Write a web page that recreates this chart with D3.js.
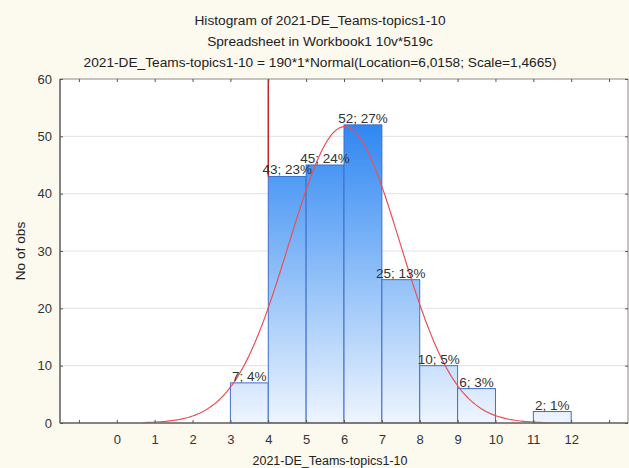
<!DOCTYPE html>
<meta charset="utf-8">
<style>
    body { margin: 0; background: #fcf9ef; }
    svg { display: block; font-family: "Liberation Sans", Arial, sans-serif; }
    .title { font-size: 13.7px; fill: #222; text-anchor: middle; }
    .axisTitle { font-size: 12.5px; fill: #222; text-anchor: middle; }
    .tick text { font-size: 13px; fill: #333; }
    .barLabel { font-size: 13.5px; fill: #333; text-anchor: middle; }
</style>
<body>
<script src="https://d3js.org/d3.v7.min.js"></script>
<script>
    // data
    let binStarts = [3, 4, 5, 6, 7, 8, 9, 10, 11];
    let counts    = [7, 43, 45, 52, 25, 10, 6, 0, 2];
    let percents  = [4, 23, 24, 27, 13, 5, 3, 0, 1];
    let xTickLabels = [0, 1, 2, 3, 4, 5, 6, 7, 8, 9, 10, 11, 12];
    let yTickLabels = [0, 10, 20, 30, 40, 50, 60];
    let titles = [
        "Histogram of 2021-DE_Teams-topics1-10",
        "Spreadsheet in Workbook1 10v*519c",
        "2021-DE_Teams-topics1-10 = 190*1*Normal(Location=6,0158; Scale=1,4665)"
    ];
    // fitted normal, parameters from the title
    let nObs = 190, fitLocation = 6.0158, fitScale = 1.4665;
    let curveFrom = 0.7, curveTo = 11.4;

    let width = 629, height = 468;
    let plotLeft = 60, plotRight = 628, plotTop = 79, plotBottom = 423;

    let svg = d3.select("body").append("svg")
        .attr("width", width)
        .attr("height", height);

    let x = d3.scaleLinear().domain([-1.5, 13.5]).range([plotLeft, plotRight]);
    let y = d3.scaleLinear().domain([0, 60]).range([plotBottom, plotTop]);

    // plot area
    svg.append("rect")
        .attr("x", plotLeft).attr("y", plotTop)
        .attr("width", plotRight - plotLeft).attr("height", plotBottom - plotTop)
        .attr("fill", "#fff");

    // grid
    svg.append("g").selectAll("line")
        .data(yTickLabels.slice(1, -1))
        .join("line")
            .attr("x1", plotLeft).attr("x2", plotRight)
            .attr("y1", d => y(d)).attr("y2", d => y(d))
            .attr("stroke", "#e2e2e2");

    // gradient in plot coordinates
    let grad = svg.append("defs").append("linearGradient")
        .attr("id", "barGrad")
        .attr("gradientUnits", "userSpaceOnUse")
        .attr("x1", 0).attr("x2", 0)
        .attr("y1", y(d3.max(counts))).attr("y2", plotBottom);
    grad.append("stop").attr("offset", 0).attr("stop-color", "#2f87f2");
    grad.append("stop").attr("offset", 1).attr("stop-color", "#eef5fe");

    let bins = binStarts.map((s, i) => ({start: s, count: counts[i], pct: percents[i]}))
        .filter(d => d.count > 0);

    svg.append("g").selectAll("rect")
        .data(bins)
        .join("rect")
            .attr("x", d => x(d.start))
            .attr("y", d => y(d.count))
            .attr("width", d => x(d.start + 1) - x(d.start))
            .attr("height", d => plotBottom - y(d.count))
            .attr("fill", "url(#barGrad)")
            .attr("stroke", "#3d6fcc")
            .attr("stroke-width", 1);

    // normal curve
    let curvePts = d3.range(curveFrom, curveTo + 0.001, 0.05).map(function(v) {
        let z = (v - fitLocation) / fitScale;
        return [v, nObs * Math.exp(-0.5 * z * z) / (fitScale * Math.sqrt(2 * Math.PI))];
    });
    svg.append("path")
        .datum(curvePts)
        .attr("fill", "none")
        .attr("stroke", "#ea5058")
        .attr("stroke-width", 1.2)
        .attr("d", d3.line().x(d => x(d[0])).y(d => y(d[1])));

    // vertical red line at the start of bin 4
    svg.append("line")
        .attr("x1", x(4)).attr("x2", x(4))
        .attr("y1", plotTop).attr("y2", y(counts[1]))
        .attr("stroke", "#c8202a")
        .attr("stroke-width", 1.5);

    // bar labels
    svg.append("g").selectAll("text")
        .data(bins)
        .join("text")
            .attr("class", "barLabel")
            .attr("x", d => x(d.start + 0.5))
            .attr("y", d => y(d.count) - 2)
            .text(d => d.count + "; " + d.pct + "%");

    // frame
    svg.append("rect")
        .attr("x", plotLeft).attr("y", plotTop)
        .attr("width", plotRight - plotLeft).attr("height", plotBottom - plotTop)
        .attr("fill", "none")
        .attr("stroke", "#8a8a8a");
    svg.append("line").attr("x1", plotLeft).attr("x2", plotLeft).attr("y1", plotTop).attr("y2", plotBottom)
        .attr("stroke", "#6f6f6f").attr("stroke-width", 1.5);
    svg.append("line").attr("x1", plotLeft).attr("x2", plotRight).attr("y1", plotBottom).attr("y2", plotBottom)
        .attr("stroke", "#6f6f6f").attr("stroke-width", 1.5);

    // axes
    let xTicks = d3.range(-1, 14);
    let xAxis = svg.append("g")
        .attr("transform", "translate(0," + plotBottom + ")")
        .call(d3.axisBottom(x).tickValues(xTicks)
            .tickSize(-3).tickPadding(12)
            .tickFormat(d => xTickLabels.includes(d) ? d : ""));
    xAxis.select(".domain").remove();
    xAxis.selectAll("line").attr("stroke", "#555");

    let xTop = svg.append("g")
        .attr("transform", "translate(0," + plotTop + ")")
        .call(d3.axisTop(x).tickValues(xTicks).tickSize(-3).tickFormat(""));
    xTop.select(".domain").remove();
    xTop.selectAll("line").attr("stroke", "#555");

    let yAxis = svg.append("g")
        .attr("transform", "translate(" + plotLeft + ",0)")
        .call(d3.axisLeft(y).tickValues(yTickLabels).tickSize(-3).tickPadding(8));
    yAxis.select(".domain").remove();
    yAxis.selectAll("line").attr("stroke", "#555");

    let yRight = svg.append("g")
        .attr("transform", "translate(" + plotRight + ",0)")
        .call(d3.axisRight(y).tickValues(yTickLabels).tickSize(-3).tickFormat(""));
    yRight.select(".domain").remove();
    yRight.selectAll("line").attr("stroke", "#555");

    // titles
    svg.append("g").selectAll("text")
        .data(titles)
        .join("text")
            .attr("class", "title")
            .attr("x", 320)
            .attr("y", (d, i) => 24.5 + i * 21)
            .text(d => d);

    svg.append("text")
        .attr("class", "axisTitle")
        .attr("x", 330).attr("y", 465)
        .text("2021-DE_Teams-topics1-10");

    svg.append("text")
        .attr("class", "title")
        .attr("transform", "translate(25," + ((plotTop + plotBottom) / 2) + ") rotate(-90)")
        .text("No of obs");
</script>
</body>
